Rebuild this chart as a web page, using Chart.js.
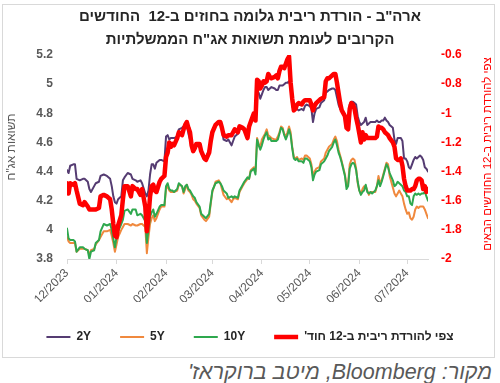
<!DOCTYPE html>
<html>
<head>
<meta charset="utf-8">
<script src="https://cdn.jsdelivr.net/npm/chart.js@4/dist/chart.umd.min.js"></script>
<style>
  html, body { margin: 0; padding: 0; background: #ffffff; }
  #frame { position: absolute; left: 2px; top: 4px; width: 493px; height: 354px; border: 1px solid #d9d9d9; box-sizing: border-box; }
  #wrap { position: absolute; left: 0; top: 0; width: 500px; height: 356px; }
  #source { position: absolute; right: 8px; top: 360px; font: italic 21.5px "Liberation Sans", Arial, sans-serif; color: #595959; white-space: nowrap; line-height: 25px; }
</style>
</head>
<body>
<div id="frame"></div>
<div id="wrap"><canvas id="c"></canvas></div>
<div id="source" dir="rtl">מקור: Bloomberg, מיטב ברוקראז'</div>
<script>
const titleLines = ['ארה"ב - הורדת ריבית גלומה בחוזים ב-12  החודשים', 'הקרובים לעומת תשואות אג"ח הממשלתיות'];
const leftAxisTitle = 'תשואות אג"ח';
const rightAxisTitle = 'צפי להורדת ריבית ב-12 החודשים הבאים';
const seriesNames = ['2Y', '5Y', '10Y', "צפי להורדת ריבית ב-12 חוד'\u200F"];

const tickDates = ['2023-12-01','2024-01-01','2024-02-01','2024-03-01','2024-04-01','2024-05-01','2024-06-01','2024-07-01'];
const tickLabels = ['12/2023','01/2024','02/2024','03/2024','04/2024','05/2024','06/2024','07/2024'];

const dates = [
'2023-12-01','2023-12-02','2023-12-03','2023-12-05','2023-12-06','2023-12-07','2023-12-09','2023-12-11','2023-12-12','2023-12-14','2023-12-15','2023-12-16','2023-12-18','2023-12-19','2023-12-21','2023-12-22','2023-12-24','2023-12-26','2023-12-28','2023-12-29','2023-12-30','2023-12-31',
'2024-01-01','2024-01-02','2024-01-04','2024-01-05','2024-01-06','2024-01-08','2024-01-10','2024-01-11','2024-01-13','2024-01-14','2024-01-16','2024-01-17','2024-01-19','2024-01-20','2024-01-21','2024-01-22','2024-01-23','2024-01-24','2024-01-25','2024-01-26','2024-01-28','2024-01-29','2024-01-31',
'2024-02-01','2024-02-02','2024-02-03','2024-02-04','2024-02-05','2024-02-06','2024-02-08','2024-02-09','2024-02-11','2024-02-12','2024-02-13','2024-02-14','2024-02-15','2024-02-16','2024-02-17','2024-02-18','2024-02-19','2024-02-20','2024-02-22','2024-02-23','2024-02-25','2024-02-26','2024-02-28','2024-02-29',
'2024-03-01','2024-03-03','2024-03-05','2024-03-06','2024-03-07','2024-03-08','2024-03-10','2024-03-11','2024-03-13','2024-03-14','2024-03-15','2024-03-17','2024-03-18','2024-03-20','2024-03-21','2024-03-23','2024-03-24','2024-03-25','2024-03-27','2024-03-28','2024-03-29','2024-03-30','2024-03-31',
'2024-04-01','2024-04-02','2024-04-03','2024-04-04','2024-04-05','2024-04-06','2024-04-07','2024-04-09','2024-04-10','2024-04-11','2024-04-12','2024-04-13','2024-04-14','2024-04-15','2024-04-16','2024-04-17','2024-04-18','2024-04-19','2024-04-20','2024-04-21','2024-04-22','2024-04-23','2024-04-24','2024-04-26','2024-04-27','2024-04-28','2024-04-29',
'2024-05-01','2024-05-02','2024-05-03','2024-05-04','2024-05-05','2024-05-07','2024-05-08','2024-05-10','2024-05-11','2024-05-12','2024-05-13','2024-05-15','2024-05-16','2024-05-17','2024-05-18','2024-05-19','2024-05-20','2024-05-21','2024-05-23','2024-05-24','2024-05-25','2024-05-26','2024-05-27','2024-05-28','2024-05-29','2024-05-30','2024-05-31',
'2024-06-01','2024-06-02','2024-06-03','2024-06-04','2024-06-05','2024-06-06','2024-06-07','2024-06-08','2024-06-09','2024-06-11','2024-06-12','2024-06-13','2024-06-14','2024-06-15','2024-06-16','2024-06-17','2024-06-18','2024-06-19','2024-06-20','2024-06-22','2024-06-23','2024-06-24','2024-06-25','2024-06-26','2024-06-27','2024-06-28','2024-06-29','2024-06-30',
'2024-07-01','2024-07-02','2024-07-03','2024-07-04','2024-07-05','2024-07-06','2024-07-07','2024-07-08','2024-07-09','2024-07-10','2024-07-11','2024-07-12','2024-07-13','2024-07-14'
];

const yield2Y = [
4.41,4.39,4.44,4.45,4.45,4.35,4.34,4.35,4.35,4.33,4.28,4.26,4.30,4.32,4.33,4.37,4.38,4.37,4.35,4.30,4.23,4.19,
4.18,4.21,4.23,4.34,4.36,4.39,4.38,4.35,4.34,4.33,4.34,4.32,4.25,4.23,4.27,4.38,4.45,4.45,4.42,4.46,4.48,4.48,4.47,
4.64,4.65,4.62,4.63,4.63,4.63,4.64,4.69,4.70,4.71,4.71,4.72,4.66,4.62,4.57,4.55,4.57,4.58,4.57,4.53,4.48,4.50,4.55,4.59,
4.66,4.72,4.74,4.73,4.69,4.62,4.61,4.62,4.58,4.61,4.64,4.66,4.70,4.69,4.70,4.67,4.72,4.73,4.78,4.79,4.96,4.94,4.90,
4.93,4.96,4.98,4.98,4.96,4.97,4.98,4.97,4.96,4.96,4.99,4.99,4.99,5.00,5.01,5.01,5.02,4.98,4.85,4.82,4.83,4.83,4.82,4.83,4.82,4.85,4.86,
4.85,4.83,4.74,4.80,4.83,4.84,4.87,4.89,4.94,4.95,4.96,4.97,4.97,4.96,4.91,4.86,4.83,4.82,4.79,4.74,4.78,4.86,4.88,4.88,4.87,4.86,4.78,
4.74,4.72,4.73,4.74,4.77,4.72,4.73,4.74,4.74,4.74,4.75,4.74,4.74,4.75,4.75,4.77,4.75,4.74,4.72,4.70,4.62,4.59,4.63,4.63,4.63,4.61,4.49,4.49,
4.47,4.43,4.42,4.45,4.48,4.50,4.49,4.50,4.51,4.50,4.48,4.43,4.42,4.40
];

const yield5Y = [
3.95,3.92,3.91,3.91,3.91,3.85,3.87,3.87,3.87,3.86,3.83,3.86,3.87,3.90,3.93,3.95,3.99,3.99,4.00,3.96,3.91,3.85,
3.90,3.95,4.00,4.02,4.04,4.04,4.03,4.04,4.03,4.03,4.04,4.04,4.02,3.84,3.95,4.04,4.08,4.10,4.06,4.08,4.14,4.16,4.16,
4.28,4.30,4.27,4.26,4.26,4.26,4.27,4.31,4.30,4.25,4.28,4.31,4.27,4.26,4.24,4.21,4.20,4.18,4.15,4.10,4.07,4.06,4.09,4.18,
4.26,4.33,4.34,4.32,4.28,4.24,4.21,4.22,4.19,4.21,4.22,4.21,4.26,4.30,4.32,4.35,4.35,4.41,4.43,4.40,4.63,4.59,4.57,
4.62,4.64,4.66,4.69,4.65,4.64,4.63,4.62,4.62,4.64,4.67,4.71,4.70,4.66,4.64,4.67,4.71,4.67,4.57,4.50,4.49,4.50,4.48,4.49,4.48,4.51,4.51,
4.49,4.45,4.37,4.40,4.42,4.43,4.47,4.49,4.53,4.55,4.57,4.59,4.62,4.64,4.61,4.55,4.51,4.47,4.38,4.30,4.32,4.45,4.48,4.49,4.48,4.42,4.32,
4.27,4.25,4.28,4.30,4.30,4.27,4.24,4.26,4.26,4.26,4.30,4.37,4.32,4.34,4.38,4.42,4.46,4.45,4.37,4.29,4.25,4.23,4.25,4.27,4.25,4.23,4.18,4.14,
4.11,4.12,4.08,4.07,4.09,4.14,4.16,4.15,4.16,4.16,4.16,4.14,4.11,4.08
];

const yield10Y = [
4.01,3.94,3.93,3.93,3.92,3.85,3.88,3.88,3.87,3.86,3.80,3.85,3.86,3.91,3.93,3.99,4.04,4.03,4.04,4.00,3.94,3.88,
3.95,3.99,4.04,4.07,4.13,4.14,4.11,4.14,4.14,4.10,4.11,4.10,4.06,3.91,4.00,4.09,4.12,4.14,4.09,4.11,4.16,4.17,4.17,
4.30,4.32,4.28,4.27,4.27,4.26,4.28,4.32,4.30,4.26,4.30,4.31,4.28,4.27,4.25,4.23,4.22,4.19,4.16,4.11,4.09,4.08,4.11,4.19,
4.27,4.32,4.33,4.32,4.30,4.27,4.25,4.22,4.23,4.22,4.23,4.22,4.27,4.31,4.33,4.36,4.35,4.40,4.42,4.38,4.62,4.58,4.55,
4.58,4.62,4.65,4.67,4.62,4.63,4.61,4.61,4.61,4.62,4.66,4.70,4.69,4.65,4.62,4.65,4.69,4.65,4.56,4.49,4.48,4.49,4.47,4.47,4.46,4.49,4.49,
4.47,4.43,4.34,4.38,4.40,4.41,4.45,4.47,4.49,4.51,4.54,4.57,4.60,4.62,4.58,4.53,4.50,4.46,4.37,4.28,4.30,4.42,4.45,4.46,4.45,4.41,4.33,
4.27,4.24,4.26,4.27,4.31,4.26,4.25,4.26,4.25,4.27,4.30,4.34,4.30,4.33,4.37,4.41,4.45,4.43,4.39,4.34,4.30,4.31,4.33,4.32,4.31,4.30,4.27,4.26,
4.23,4.23,4.18,4.17,4.23,4.25,4.24,4.25,4.24,4.25,4.25,4.26,4.23,4.20
];

const cutExpectation = [
-1.48,-1.55,-1.48,-1.49,-1.48,-1.53,-1.62,-1.63,-1.61,-1.64,-1.66,-1.66,-1.66,-1.66,-1.65,-1.57,-1.56,-1.57,-1.59,-1.66,-1.76,-1.84,
-1.85,-1.77,-1.70,-1.59,-1.50,-1.50,-1.57,-1.50,-1.52,-1.52,-1.56,-1.52,-1.64,-1.81,-1.71,-1.57,-1.50,-1.49,-1.53,-1.54,-1.47,-1.45,-1.43,
-1.30,-1.27,-1.20,-1.23,-1.21,-1.22,-1.17,-1.13,-1.15,-1.11,-1.08,-1.06,-1.10,-1.13,-1.22,-1.26,-1.24,-1.21,-1.21,-1.26,-1.31,-1.32,-1.27,-1.19,
-1.13,-1.08,-1.06,-1.06,-1.10,-1.15,-1.16,-1.15,-1.15,-1.13,-1.11,-1.13,-1.09,-1.10,-1.11,-1.17,-1.09,-1.06,-1.00,-1.05,-0.77,-0.78,-0.83,
-0.81,-0.78,-0.79,-0.78,-0.73,-0.75,-0.76,-0.75,-0.74,-0.76,-0.71,-0.68,-0.68,-0.69,-0.66,-0.63,-0.61,-0.79,-0.90,-0.98,-0.97,-0.94,-0.93,-0.94,-0.92,-0.91,-0.91,
-0.91,-0.94,-0.98,-0.95,-0.93,-0.91,-0.90,-0.89,-0.78,-0.76,-0.76,-0.74,-0.73,-0.73,-0.79,-0.86,-0.93,-0.98,-1.02,-1.10,-1.11,-0.97,-0.93,-0.94,-0.97,-1.03,-1.08,
-1.14,-1.20,-1.13,-1.18,-1.15,-1.17,-1.17,-1.17,-1.17,-1.17,-1.16,-1.09,-1.10,-1.10,-1.11,-1.13,-1.14,-1.15,-1.17,-1.20,-1.23,-1.31,-1.32,-1.32,-1.31,-1.36,-1.45,-1.50,
-1.53,-1.53,-1.53,-1.52,-1.52,-1.50,-1.46,-1.45,-1.45,-1.46,-1.52,-1.50,-1.54,-1.52
];

const FONT = '"Liberation Sans", Arial, sans-serif';
const DAY = 86400000;
const origin = Date.UTC(2023, 11, 1);
function dayOf(s) { const p = s.split('-').map(Number); return (Date.UTC(p[0], p[1] - 1, p[2]) - origin) / DAY; }
const xs = dates.map(dayOf);
const tickDays = tickDates.map(dayOf);
function pts(vals) { return vals.map((v, i) => ({ x: xs[i], y: v })); }

const axisTitlePlugin = {
  id: 'axisTitles',
  afterDraw(chart) {
    const { ctx, chartArea } = chart;
    const midY = (chartArea.top + chartArea.bottom) / 2;
    ctx.save();
    ctx.textAlign = 'center';
    ctx.textBaseline = 'middle';
    ctx.font = '12px ' + FONT;
    ctx.fillStyle = '#595959';
    ctx.translate(chart.scales.y.left + 12, midY - 10);
    ctx.rotate(-Math.PI / 2);
    ctx.fillText(leftAxisTitle, 0, 0);
    ctx.restore();
    ctx.save();
    ctx.textAlign = 'center';
    ctx.textBaseline = 'middle';
    ctx.font = '11.5px ' + FONT;
    ctx.fillStyle = '#FF0000';
    ctx.translate(chart.scales.y1.right - 12, midY - 3);
    ctx.rotate(-Math.PI / 2);
    ctx.fillText(rightAxisTitle, 0, 0);
    ctx.restore();
  }
};

new Chart(document.getElementById('c'), {
  type: 'line',
  data: {
    datasets: [
      { label: seriesNames[0], data: pts(yield2Y), borderColor: '#553C72', backgroundColor: '#553C72', borderWidth: 2, yAxisID: 'y', order: 3 },
      { label: seriesNames[1], data: pts(yield5Y), borderColor: '#F0893E', backgroundColor: '#F0893E', borderWidth: 2, yAxisID: 'y', order: 2 },
      { label: seriesNames[2], data: pts(yield10Y), borderColor: '#2EA84E', backgroundColor: '#2EA84E', borderWidth: 2, yAxisID: 'y', order: 1 },
      { label: seriesNames[3], data: pts(cutExpectation), borderColor: '#FF0000', backgroundColor: '#FF0000', borderWidth: 4.5, yAxisID: 'y1', order: 0 }
    ]
  },
  options: {
    responsive: true,
    maintainAspectRatio: false,
    animation: false,
    elements: { point: { radius: 0, hoverRadius: 0 }, line: { tension: 0, borderJoinStyle: 'round', borderCapStyle: 'round' } },
    layout: { padding: { left: 0, right: 0, top: 0, bottom: 3 } },
    plugins: {
      title: {
        display: true,
        text: titleLines,
        color: '#262626',
        font: { family: FONT, size: 15, weight: 'bold', lineHeight: 1.5 },
        padding: { top: 6, bottom: 4 }
      },
      legend: {
        position: 'bottom',
        labels: {
          usePointStyle: true,
          pointStyle: 'line',
          pointStyleWidth: 24,
          padding: 29,
          color: '#262626',
          font: { family: FONT, size: 12, weight: 'bold' },
          sort: (a, b) => a.datasetIndex - b.datasetIndex
        }
      },
      tooltip: { enabled: false }
    },
    scales: {
      x: {
        type: 'linear',
        min: xs[0],
        max: xs[xs.length - 1],
        afterBuildTicks: (scale) => { scale.ticks = tickDays.map(v => ({ value: v })); },
        afterFit: (scale) => { scale.height = 43; },
        ticks: {
          autoSkip: false,
          maxRotation: 45,
          minRotation: 45,
          padding: 2,
          color: '#595959',
          font: { family: FONT, size: 12 },
          callback: (v) => { const i = tickDays.indexOf(v); return i >= 0 ? tickLabels[i] : ''; }
        },
        grid: { drawOnChartArea: false, drawTicks: true, tickLength: 5, color: '#d9d9d9' },
        border: { display: true, color: '#d9d9d9', width: 1 }
      },
      y: {
        position: 'left',
        min: 3.8,
        max: 5.2,
        ticks: { stepSize: 0.2, padding: 14, color: '#595959', font: { family: FONT, size: 12, weight: 'bold' }, callback: (v) => String(+v.toFixed(1)) },
        grid: { display: false, drawTicks: false },
        border: { display: false },
        afterFit: (scale) => { scale.width = 67; }
      },
      y1: {
        position: 'right',
        min: -2,
        max: -0.6,
        ticks: { stepSize: 0.2, padding: 13, color: '#FF0000', font: { family: FONT, size: 12, weight: 'bold' }, callback: (v) => String(+v.toFixed(1)) },
        grid: { display: false, drawTicks: false },
        border: { display: false },
        afterFit: (scale) => { scale.width = 72; }
      }
    }
  },
  plugins: [axisTitlePlugin]
});
</script>
</body>
</html>
